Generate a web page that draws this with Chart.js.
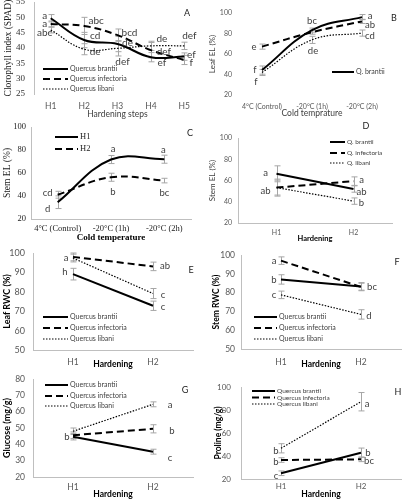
<!DOCTYPE html>
<html lang="en">
<head>
<meta charset="UTF-8">
<title>Cold hardening of Quercus species</title>
<script src="https://cdn.jsdelivr.net/npm/chart.js"></script>
<style>
  * { margin: 0; padding: 0; box-sizing: border-box; }
  body { background: #fff; width: 404px; height: 500px; position: relative; overflow: hidden; }
  canvas { position: absolute; }
</style>
</head>
<body>
<script>
// categories
const steps = ['H1', 'H2', 'H3', 'H4', 'H5'];
const coldTemps = ['4°C (Control)', '-20°C (1h)', '-20°C (2h)'];
const hardening = ['H1', 'H2'];
const species = ['Quercus brantii', 'Quercus infectoria', 'Quercus libani'];
const speciesShort = ['Q. brantii', 'Q. infectoria', 'Q. libani'];
const hardLevels = ['H1', 'H2'];

// A - chlorophyll index
const spadBrantii = [49.7, 42.6, 41.3, 37.0, 37.2];
const spadInfectoria = [47.8, 47.2, 44.2, 39.3, 36.1];
const spadLibani = [45.9, 39.6, 39.9, 40.7, 40.7];
const spadBrantiiErr = [1.2, 2.5, 2.5, 1.5, 1.2];
const spadInfectoriaErr = [1.0, 2.8, 2.0, 2.5, 1.5];
const spadLibaniErr = [1.0, 1.8, 2.5, 1.5, 1.2];
const spadBrantiiSig = ['a', 'cd', 'de', 'ef', 'ef'];
const spadInfectoriaSig = ['a', 'abc', 'bcd', 'def', 'f'];
const spadLibaniSig = ['abc', 'de', 'def', 'de', 'def'];

// B - leaf electrolyte leakage
const leafElBrantii = [44.3, 83.3, 96.0];
const leafElInfectoria = [67.2, 81.3, 91.8];
const leafElLibani = [42.0, 73.8, 80.4];
const leafElBrantiiErr = [4, 2, 2.5];
const leafElInfectoriaErr = [2.5, 2, 2];
const leafElLibaniErr = [3, 3.5, 3];
const leafElBrantiiSig = ['f', 'bc', 'a'];
const leafElInfectoriaSig = ['e', '', 'ab'];
const leafElLibaniSig = ['f', 'de', 'cd'];

// C - stem EL by hardening level
const stemElH1 = [34.6, 71.7, 72.0];
const stemElH2 = [41.1, 56.3, 53.4];
const stemElH1Err = [5.5, 3.5, 3.5];
const stemElH2Err = [3, 3.5, 2];
const stemElH1Sig = ['d', 'a', 'a'];
const stemElH2Sig = ['cd', 'b', 'bc'];

// D - stem EL by species
const stemElBrantii = [66.3, 52.0];
const stemElInfectoria = [53.3, 59.4];
const stemElLibani = [53.3, 40.6];
const stemElBrantiiErr = [7.5, 3];
const stemElInfectoriaErr = [8, 4];
const stemElLibaniErr = [7, 3];
const stemElBrantiiSig = ['a', 'ab'];
const stemElInfectoriaSig = ['ab', 'a'];
const stemElLibaniSig = ['', 'b'];

// E - leaf RWC
const leafRwcBrantii = [89.1, 72.8];
const leafRwcInfectoria = [98.0, 93.1];
const leafRwcLibani = [97.4, 79.1];
const leafRwcBrantiiErr = [3, 2.4];
const leafRwcInfectoriaErr = [2, 2.2];
const leafRwcLibaniErr = [2, 2.6];
const leafRwcBrantiiSig = ['h', 'c'];
const leafRwcInfectoriaSig = ['a', 'ab'];
const leafRwcLibaniSig = ['', 'c'];

// F - stem RWC
const stemRwcBrantii = [87.0, 83.3];
const stemRwcInfectoria = [97.0, 83.0];
const stemRwcLibani = [78.8, 68.4];
const stemRwcBrantiiErr = [2.5, 2];
const stemRwcInfectoriaErr = [2, 2];
const stemRwcLibaniErr = [2, 2.5];
const stemRwcBrantiiSig = ['b', 'bc'];
const stemRwcInfectoriaSig = ['a', ''];
const stemRwcLibaniSig = ['c', 'd'];

// G - glucose
const glucoseBrantii = [44.7, 35.5];
const glucoseInfectoria = [45.6, 49.5];
const glucoseLibani = [48.0, 64.5];
const glucoseBrantiiErr = [2, 1.5];
const glucoseInfectoriaErr = [2, 2.5];
const glucoseLibaniErr = [2, 1.5];
const glucoseBrantiiSig = ['b', 'c'];
const glucoseInfectoriaSig = ['', 'b'];
const glucoseLibaniSig = ['', 'a'];

// H - proline
const prolineBrantii = [25.0, 42.9];
const prolineInfectoria = [36.5, 37.1];
const prolineLibani = [46.7, 87.2];
const prolineBrantiiErr = [2, 4];
const prolineInfectoriaErr = [2, 2];
const prolineLibaniErr = [4, 8];
const prolineBrantiiSig = ['c', 'b'];
const prolineInfectoriaSig = ['b', 'bc'];
const prolineLibaniSig = ['b', 'a'];

const SANS = 'Lato, sans-serif';
const SERIF = "'Liberation Serif', serif";
const LINE = {
  solid: { dash: [], width: 2 },
  dashed: { dash: [7, 4], width: 2 },
  dotted: { dash: [1.5, 1.5], width: 1.2 }
};
const f = (size, family, weight) => ({ size, family: family || SANS, weight: weight || 'normal' });

function trio(b, i, l) {
  // b, i, l = [data, err, sig, offsets]
  return [
    { data: b[0], err: b[1], sig: b[2], at: b[3], line: 'solid' },
    { data: i[0], err: i[1], sig: i[2], at: i[3], line: 'dashed' },
    { data: l[0], err: l[1], sig: l[2], at: l[3], line: 'dotted' }
  ];
}

const panels = [
  {
    tag: 'A', tagAt: [187, 13], box: [0, 0, 202, 120], area: [34, 201, 2, 94],
    labels: steps, y: [25, 55, 5], tension: 0.4, borders: [false, true],
    xTick: [f(8.5), 7], yTick: [f(9, SERIF), 9, '#333'],
    xTitle: ['Hardening steps', f(8.5), 1], yTitle: ['Clorophyll index (SPAD)', f(9.5, SERIF), 2.3, '#222'],
    sigFont: f(10),
    legend: { names: species, x1: 43, x2: 68, tx: 70, rows: [69, 79, 89], font: f(7) },
    series: trio(
      [spadBrantii, spadBrantiiErr, spadBrantiiSig, [[-6, -2], [11, -4], [10, -1], [11, 6], [7, -2]]],
      [spadInfectoria, spadInfectoriaErr, spadInfectoriaSig, [[-6, 0], [12, -5], [12, -2], [13, 1.5], [7, 3]]],
      [spadLibani, spadLibaniErr, spadLibaniSig, [[-6, 3], [11, 2.5], [5, 13], [11, -7], [5, -10]]])
  },
  {
    tag: 'B', tagAt: [394, 18], box: [202, 0, 202, 120], area: [237, 387, 13, 95],
    labels: coldTemps, y: [20, 100, 20], tension: 0.4, borders: [false, false],
    xTick: [f(7), 7.8], yTick: [f(7), 5],
    xTitle: ['Cold temprature', f(8.5), 1.2], yTitle: ['Leaf EL (%)', f(8), 5.2],
    sigFont: f(9.5),
    legend: { names: ['Q. brantii'], x1: 332, x2: 354, tx: 356, rows: [72], font: f(7) },
    series: trio(
      [leafElBrantii, leafElBrantiiErr, leafElBrantiiSig, [[-7, 0], [0, -9], [8, -1]]],
      [leafElInfectoria, leafElInfectoriaErr, leafElInfectoriaSig, [[-8, 0], null, [8, 4]]],
      [leafElLibani, leafElLibaniErr, leafElLibaniSig, [[-6, 9], [1, 11], [8, 3]]])
  },
  {
    tag: 'C', tagAt: [190, 133], box: [0, 120, 202, 125], area: [31, 191, 127, 219],
    labels: coldTemps, y: [20, 100, 20], tension: 0.4, borders: [true, true],
    xTick: [f(8.5, SERIF), 4.9, '#222'], yTick: [f(8.5, SERIF), 5, '#222'],
    xTitle: ['Cold temperature', f(9, SERIF, 'bold'), 1.6, '#000'], yTitle: ['Stem EL (%)', f(9.5, SERIF), 1.3, '#222'],
    sigFont: f(9.5),
    legend: { names: hardLevels, x1: 55, x2: 78, tx: 80, rows: [137, 149], font: f(8.5, SERIF), color: '#222' },
    series: [
      { data: stemElH1, err: stemElH1Err, sig: stemElH1Sig, at: [[-10, 7], [2, -11], [-1, -9]], line: 'solid' },
      { data: stemElH2, err: stemElH2Err, sig: stemElH2Sig, at: [[-10, -2], [2, 15], [0, 12]], line: 'dashed' }
    ]
  },
  {
    tag: 'D', tagAt: [366, 126], box: [202, 120, 202, 125], area: [238, 392, 138, 223],
    labels: hardening, y: [20, 100, 20], tension: 0, borders: [true, true],
    xTick: [f(7), 5.8], yTick: [f(7), 6],
    xTitle: ['Hardening', f(7.5, SANS, 'bold'), 2.4, '#000'], yTitle: ['Stem EL (%)', f(8), 5.2],
    sigFont: f(9.5),
    legend: { names: speciesShort, x1: 330, x2: 345, tx: 347, rows: [142, 153, 163], font: f(6.5) },
    series: trio(
      [stemElBrantii, stemElBrantiiErr, stemElBrantiiSig, [[-11, -1], [8, 3]]],
      [stemElInfectoria, stemElInfectoriaErr, stemElInfectoriaSig, [[-11, 3], [8, -1]]],
      [stemElLibani, stemElLibaniErr, stemElLibaniSig, [null, [8, 2]]])
  },
  {
    tag: 'E', tagAt: [191, 270], box: [0, 245, 202, 127], area: [33, 193, 253, 350],
    labels: hardening, y: [50, 100, 10], tension: 0, borders: [true, true],
    xTick: [f(8.5), 6.9], yTick: [f(9), 8],
    xTitle: ['Hardening', f(8.5, SANS, 'bold'), 2.9, '#000'], yTitle: ['Leaf RWC (%)', f(9, SANS, 'bold'), 1.6, '#000'],
    sigFont: f(9.5),
    legend: { names: species, x1: 43, x2: 68, tx: 70, rows: [317, 328, 339], font: f(7) },
    series: trio(
      [leafRwcBrantii, leafRwcBrantiiErr, leafRwcBrantiiSig, [[-8, -2], [10, 1]]],
      [leafRwcInfectoria, leafRwcInfectoriaErr, leafRwcInfectoriaSig, [[-7, 1], [12, 0]]],
      [leafRwcLibani, leafRwcLibaniErr, leafRwcLibaniSig, [null, [10, 1.5]]])
  },
  {
    tag: 'F', tagAt: [397, 262], box: [202, 245, 202, 127], area: [241, 401, 255, 349],
    labels: hardening, y: [50, 100, 10], tension: 0, borders: [true, true],
    xTick: [f(8.5), 7.9], yTick: [f(8.5), 6],
    xTitle: ['Hardening', f(8.5, SANS, 'bold'), 2.9, '#000'], yTitle: ['Stem RWC (%)', f(8.5, SANS, 'bold'), 9.6, '#000'],
    sigFont: f(9.5),
    legend: { names: species, x1: 254, x2: 277, tx: 279, rows: [317, 328, 339], font: f(7) },
    series: trio(
      [stemRwcBrantii, stemRwcBrantiiErr, stemRwcBrantiiSig, [[-7, 0], [11, 1]]],
      [stemRwcInfectoria, stemRwcInfectoriaErr, stemRwcInfectoriaSig, [[-7, 0], null]],
      [stemRwcLibani, stemRwcLibaniErr, stemRwcLibaniSig, [[-7, 0], [8, 2]]])
  },
  {
    tag: 'G', tagAt: [185, 390], box: [0, 372, 202, 128], area: [33, 193, 379, 477],
    labels: hardening, y: [20, 80, 10], tension: 0, borders: [true, true],
    xTick: [f(8.5), 4.9], yTick: [f(8.5), 8],
    xTitle: ['Hardening', f(8.5, SANS, 'bold'), 0.9, '#000'], yTitle: ['Glucose (mg/g)', f(9, SANS, 'bold'), 1.6, '#000'],
    sigFont: f(9.5),
    legend: { names: species, x1: 45, x2: 68, tx: 70, rows: [385, 396, 406], font: f(7) },
    series: trio(
      [glucoseBrantii, glucoseBrantiiErr, glucoseBrantiiSig, [[-6, 0], [17, 6]]],
      [glucoseInfectoria, glucoseInfectoriaErr, glucoseInfectoriaSig, [null, [19, 2]]],
      [glucoseLibani, glucoseLibaniErr, glucoseLibaniSig, [null, [17, 1]]])
  },
  {
    tag: 'H', tagAt: [398, 392], box: [202, 372, 202, 128], area: [241, 401, 387, 479],
    labels: hardening, y: [20, 100, 20], tension: 0, borders: [true, true],
    xTick: [f(8), 2.9], yTick: [f(8), 10],
    xTitle: ['Hardening', f(8.5, SANS, 'bold'), 0.9, '#000'], yTitle: ['Proline (mg/g)', f(8.5, SANS, 'bold'), 10.9, '#000'],
    sigFont: f(9.5),
    legend: { names: species, x1: 252, x2: 275, tx: 277, rows: [391, 397.5, 404], font: f(6.5) },
    series: trio(
      [prolineBrantii, prolineBrantiiErr, prolineBrantiiSig, [[-5, 3], [7, 0]]],
      [prolineInfectoria, prolineInfectoriaErr, prolineInfectoriaSig, [[-5, 2], [8, 2]]],
      [prolineLibani, prolineLibaniErr, prolineLibaniSig, [[-5, 3], [6, 2]]])
  }
];

function fontStr(ft) {
  return `${ft.weight} ${ft.size}px ${ft.family}`;
}

// error bars, significance letters, legend and panel tag
function decorations(p) {
  const ox = p.box[0], oy = p.box[1];
  return {
    id: 'deco' + p.tag,
    beforeDatasetsDraw(chart) {
      const ctx = chart.ctx, xs = chart.scales.x, ys = chart.scales.y;
      ctx.save();
      ctx.strokeStyle = '#a6a6a6';
      ctx.lineWidth = 1;
      p.series.forEach(s => s.err.forEach((e, i) => {
        const px = Math.round(xs.getPixelForValue(i)) + 0.5;
        const top = ys.getPixelForValue(s.data[i] + e);
        const bot = ys.getPixelForValue(s.data[i] - e);
        ctx.beginPath();
        ctx.moveTo(px, top); ctx.lineTo(px, bot);
        ctx.moveTo(px - 3, top); ctx.lineTo(px + 3, top);
        ctx.moveTo(px - 3, bot); ctx.lineTo(px + 3, bot);
        ctx.stroke();
      }));
      ctx.restore();
    },
    afterDraw(chart) {
      const ctx = chart.ctx, xs = chart.scales.x, ys = chart.scales.y;
      ctx.save();
      ctx.textAlign = 'center';
      ctx.textBaseline = 'middle';
      ctx.fillStyle = '#404040';
      ctx.font = fontStr(p.sigFont);
      p.series.forEach(s => s.sig.forEach((txt, i) => {
        if (!txt || !s.at[i]) return;
        ctx.fillText(txt, xs.getPixelForValue(i) + s.at[i][0], ys.getPixelForValue(s.data[i]) + s.at[i][1]);
      }));

      // legend
      const lg = p.legend;
      ctx.textAlign = 'left';
      ctx.font = fontStr(lg.font);
      lg.names.forEach((name, k) => {
        const st = LINE[p.series[k].line];
        const ly = lg.rows[k] - oy;
        ctx.strokeStyle = '#000';
        ctx.lineWidth = st.width;
        ctx.setLineDash(st.dash);
        ctx.beginPath();
        ctx.moveTo(lg.x1 - ox, ly);
        ctx.lineTo(lg.x2 - ox, ly);
        ctx.stroke();
        ctx.setLineDash([]);
        ctx.fillStyle = lg.color || '#404040';
        ctx.fillText(name, lg.tx - ox, ly);
      });

      // panel letter
      ctx.textAlign = 'center';
      ctx.fillStyle = '#222';
      ctx.font = fontStr(f(9));
      ctx.fillText(p.tag, p.tagAt[0] - ox, p.tagAt[1] - oy);
      ctx.restore();
    }
  };
}

panels.forEach(p => {
  const [bx, by, bw, bh] = p.box;
  const [al, ar, at, ab] = p.area;
  const canvas = document.createElement('canvas');
  canvas.width = bw;
  canvas.height = bh;
  canvas.style.left = bx + 'px';
  canvas.style.top = by + 'px';
  canvas.style.width = bw + 'px';
  canvas.style.height = bh + 'px';
  document.body.appendChild(canvas);

  new Chart(canvas.getContext('2d'), {
    type: 'line',
    data: {
      labels: p.labels,
      datasets: p.series.map((s, k) => ({
        label: p.legend.names[k] || String(k),
        data: s.data,
        borderColor: '#000',
        borderWidth: LINE[s.line].width,
        borderDash: LINE[s.line].dash,
        pointRadius: 0,
        tension: p.tension,
        fill: false
      }))
    },
    options: {
      responsive: false,
      animation: false,
      devicePixelRatio: 1,
      layout: { padding: { left: 0, top: at - by, right: bx + bw - ar, bottom: 0 } },
      plugins: { legend: { display: false }, tooltip: { enabled: false } },
      scales: {
        x: {
          offset: true,
          grid: { display: false, drawTicks: false },
          border: { display: p.borders[0], color: '#bfbfbf', width: 1 },
          ticks: { font: p.xTick[0], color: p.xTick[2] || '#595959', padding: p.xTick[1], autoSkip: false, maxRotation: 0 },
          title: { display: true, text: p.xTitle[0], font: p.xTitle[1], color: p.xTitle[3] || '#404040', padding: { top: 0, bottom: p.xTitle[2] } },
          afterFit: s => { s.height = by + bh - ab; s.paddingLeft = 0; s.paddingRight = 0; }
        },
        y: {
          min: p.y[0],
          max: p.y[1],
          grid: { display: false, drawTicks: false },
          border: { display: p.borders[1], color: '#bfbfbf', width: 1 },
          ticks: { stepSize: p.y[2], font: p.yTick[0], color: p.yTick[2] || '#595959', padding: p.yTick[1] },
          title: { display: true, text: p.yTitle[0], font: p.yTitle[1], color: p.yTitle[3] || '#404040', padding: { top: p.yTitle[2], bottom: 0 } },
          afterFit: s => { s.width = al - bx; s.paddingTop = 0; s.paddingBottom = 0; }
        }
      }
    },
    plugins: [decorations(p)]
  });
});
</script>
</body>
</html>
